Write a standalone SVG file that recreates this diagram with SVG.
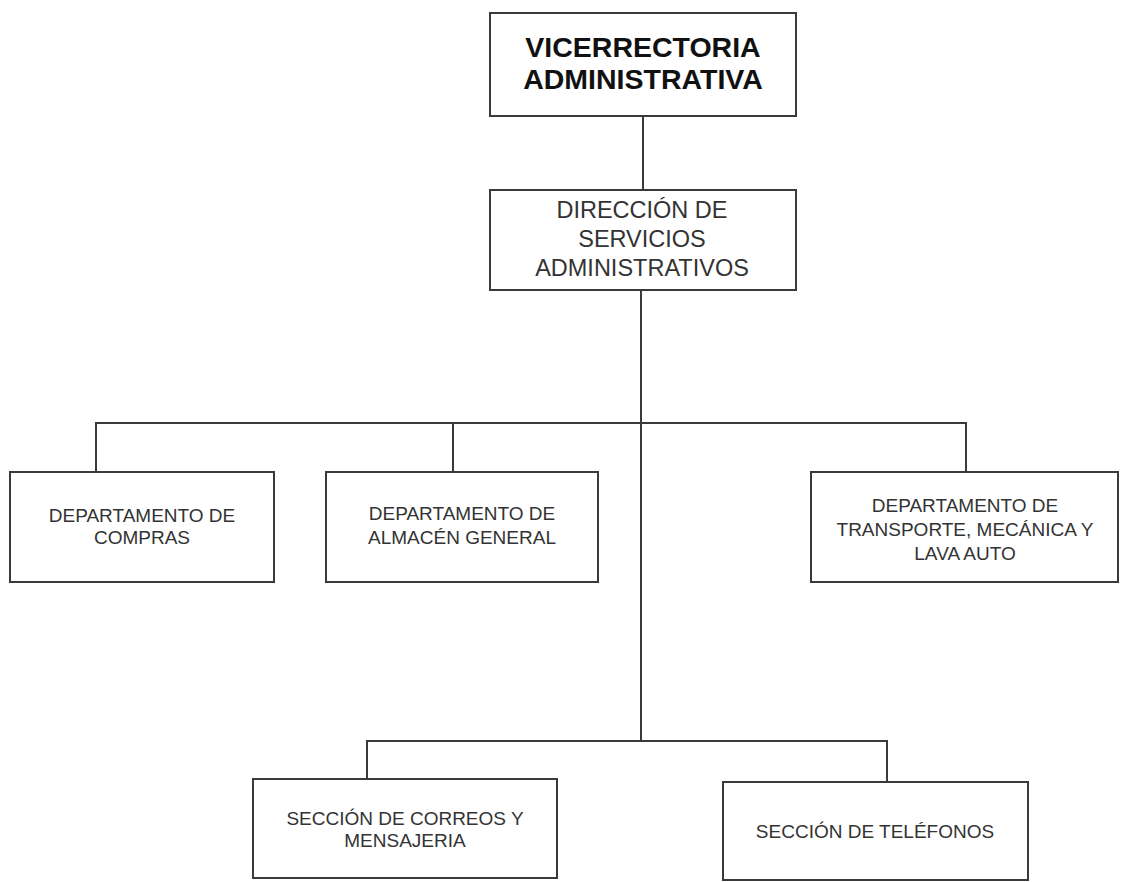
<svg xmlns="http://www.w3.org/2000/svg" width="1121" height="882" viewBox="0 0 1121 882">
<style>
.box{fill:#fff;stroke:#3a3a3a;stroke-width:2}
.ln{fill:none;stroke:#3a3a3a;stroke-width:2}
.t{font-family:"Liberation Sans",Arial,sans-serif;fill:#333;text-anchor:middle}
.s{font-size:19px}
.m{font-size:23.5px}
.b{font-size:28.5px;font-weight:bold;fill:#111}
</style>
<rect width="1121" height="882" fill="#fff"/>
<g id="connectors">
<path class="ln" d="M643 116 V190"/>
<path class="ln" d="M641 290 V741"/>
<path class="ln" d="M96 472 V423 H966 V472"/>
<path class="ln" d="M453 423 V472"/>
<path class="ln" d="M367 779 V741 H887 V782"/>
</g>
<g id="vicerrectoria">
<rect class="box" x="490" y="13" width="306" height="103"/>
<text class="t b" x="643" y="57">VICERRECTORIA</text>
<text class="t b" x="643" y="89">ADMINISTRATIVA</text>
</g>
<g id="direccion">
<rect class="box" x="490" y="190" width="306" height="100"/>
<text class="t m" x="642" y="218">DIRECCIÓN DE</text>
<text class="t m" x="642" y="247">SERVICIOS</text>
<text class="t m" x="642" y="276">ADMINISTRATIVOS</text>
</g>
<g id="compras">
<rect class="box" x="10" y="472" width="264" height="110"/>
<text class="t s" x="142" y="522">DEPARTAMENTO DE</text>
<text class="t s" x="142" y="544">COMPRAS</text>
</g>
<g id="almacen">
<rect class="box" x="326" y="472" width="272" height="110"/>
<text class="t s" x="462" y="520">DEPARTAMENTO DE</text>
<text class="t s" x="462" y="544">ALMACÉN GENERAL</text>
</g>
<g id="transporte">
<rect class="box" x="811" y="472" width="307" height="110"/>
<text class="t s" x="965" y="512">DEPARTAMENTO DE</text>
<text class="t s" x="965" y="536">TRANSPORTE, MECÁNICA Y</text>
<text class="t s" x="965" y="560">LAVA AUTO</text>
</g>
<g id="correos">
<rect class="box" x="253" y="779" width="304" height="99"/>
<text class="t s" x="405" y="825">SECCIÓN DE CORREOS Y</text>
<text class="t s" x="405" y="847">MENSAJERIA</text>
</g>
<g id="telefonos">
<rect class="box" x="723" y="782" width="305" height="98"/>
<text class="t s" x="875" y="838">SECCIÓN DE TELÉFONOS</text>
</g>
</svg>
